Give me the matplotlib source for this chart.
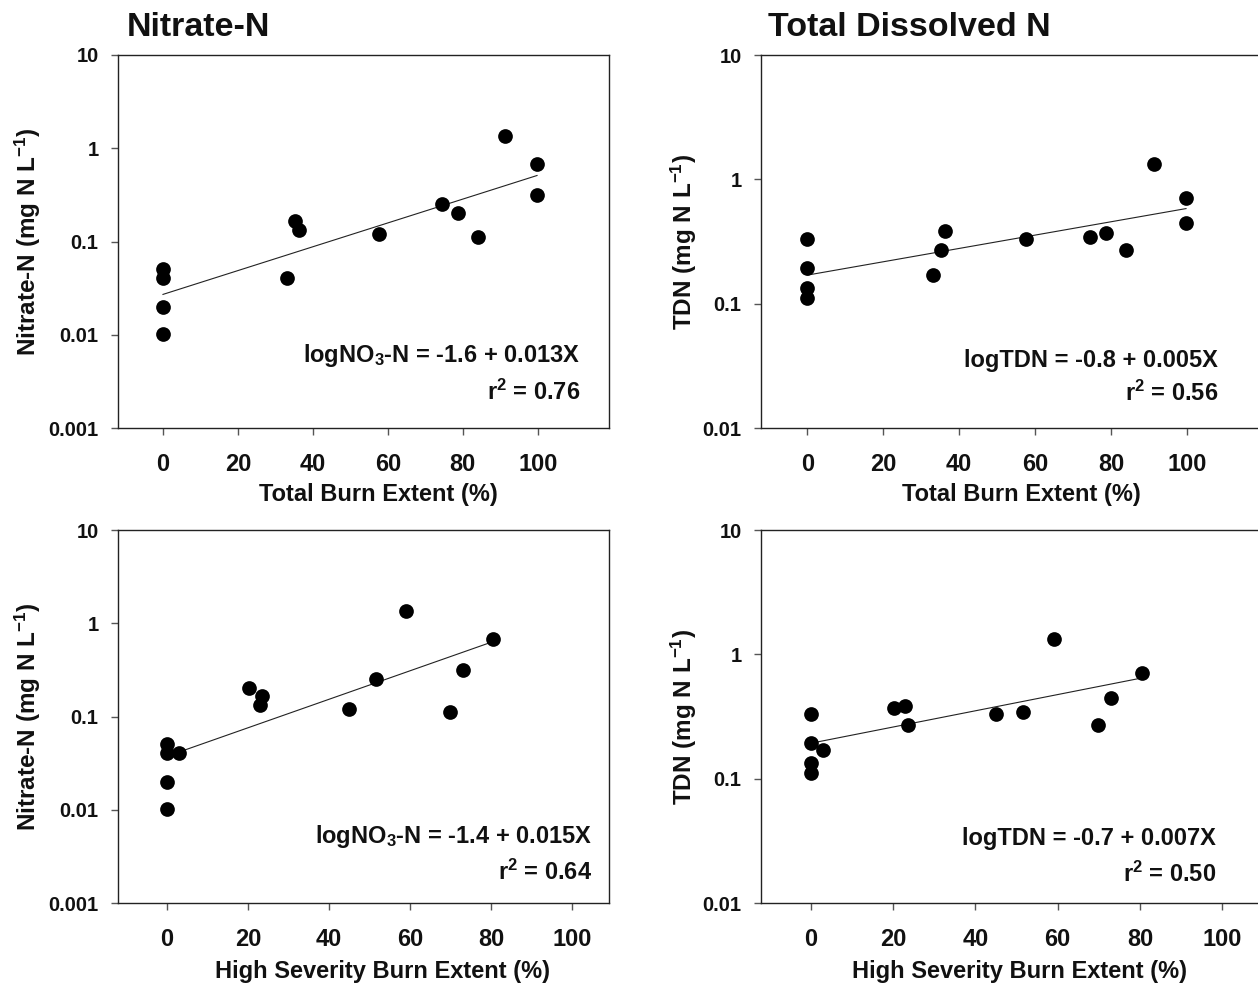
import numpy as np
import matplotlib
matplotlib.use("Agg")
import matplotlib.pyplot as plt

plt.rcParams['font.family'] = ['Liberation Sans', 'DejaVu Sans']
plt.rcParams['font.weight'] = 'bold'
plt.rcParams['mathtext.fontset'] = 'custom'
plt.rcParams['mathtext.rm'] = 'Liberation Sans:bold'
plt.rcParams['mathtext.bf'] = 'Liberation Sans:bold'
plt.rcParams['mathtext.it'] = 'Liberation Sans:bold'
plt.rcParams['mathtext.default'] = 'rm'

# ---- data ----
total_burn = [0, 0, 0, 0, 33, 35.2, 36.4, 57.6, 74.4, 78.6, 84.1, 91.3, 99.8, 99.8]
high_sev = [0, 0, 0, 0, 3, 23.5, 23, 45, 51.5, 20.2, 69.7, 59, 80.5, 73]
nitrate = [0.051, 0.041, 0.020, 0.0102, 0.041, 0.165, 0.132, 0.122, 0.255, 0.204,
           0.112, 1.34, 0.685, 0.318]
tdn = [0.334, 0.193, 0.133, 0.111, 0.172, 0.273, 0.386, 0.334, 0.344, 0.373,
       0.273, 1.33, 0.713, 0.447]

titles = ["Nitrate-N", "Total Dissolved N"]
x_labels = ["Total Burn Extent (%)", "High Severity Burn Extent (%)"]
y_labels = ["Nitrate-N (mg N L$^{\\mathrm{-1}}$)", "TDN (mg N L$^{\\mathrm{-1}}$)"]
equations = [["logNO$_{3}$-N = -1.6 + 0.013X", "logTDN = -0.8 + 0.005X"],
             ["logNO$_{3}$-N = -1.4 + 0.015X", "logTDN = -0.7 + 0.007X"]]
r2_texts = [["r$^{2}$ = 0.76", "r$^{2}$ = 0.56"],
            ["r$^{2}$ = 0.64", "r$^{2}$ = 0.50"]]
x_ticks = [0, 20, 40, 60, 80, 100]
nitrate_ticks = [0.001, 0.01, 0.1, 1, 10]
nitrate_ticklabels = ["0.001", "0.01", "0.1", "1", "10"]
tdn_ticks = [0.01, 0.1, 1, 10]
tdn_ticklabels = ["0.01", "0.1", "1", "10"]

W, H = 1258, 986
fig = plt.figure(figsize=(W / 100, H / 100), dpi=100)


def px_axes(left, top, right, bottom):
    return fig.add_axes([left / W, 1 - bottom / H, (right - left) / W, (bottom - top) / H])


layout = {
    (0, 0): dict(box=(118, 55, 609, 428.3), xlim=(-12, 119)),
    (0, 1): dict(box=(761, 55, 1258.5, 428.3), xlim=(-12.2, 118.9)),
    (1, 0): dict(box=(118, 530, 609, 903.3), xlim=(-12, 109)),
    (1, 1): dict(box=(761, 530, 1259, 903.3), xlim=(-12.1, 108.9)),
}
eq_pos = {
    (0, 0): (580, 362, 400),
    (0, 1): (1218, 367, 401),
    (1, 0): (592, 843, 880),
    (1, 1): (1216, 845, 882),
}
xlabel_pos = {(0, 0): 378, (0, 1): 1021, (1, 0): 382.5, (1, 1): 1019}

for r in range(2):
    xs = total_burn if r == 0 else high_sev
    for c in range(2):
        ys = nitrate if c == 0 else tdn
        cfg = layout[(r, c)]
        l, t, rr, b = cfg['box']
        ax = px_axes(l, t, rr, b)
        wpx, hpx = rr - l, b - t
        ax.set_yscale('log')
        ax.scatter(xs, ys, s=112, color='black', zorder=3, linewidths=0)
        xa = np.array(xs, dtype=float)
        coef = np.polyfit(xa, np.log10(ys), 1)
        xl = np.array([xa.min(), xa.max()])
        ax.plot(xl, 10 ** np.polyval(coef, xl), color='#222222', lw=0.8, zorder=2)
        ax.set_xlim(*cfg['xlim'])
        if c == 0:
            ax.set_ylim(0.001, 10)
            ax.set_yticks(nitrate_ticks)
            ax.set_yticklabels(nitrate_ticklabels)
        else:
            ax.set_ylim(0.01, 10)
            ax.set_yticks(tdn_ticks)
            ax.set_yticklabels(tdn_ticklabels)
        ax.yaxis.set_minor_locator(matplotlib.ticker.NullLocator())
        ax.set_xticks(x_ticks)
        ax.tick_params(axis='x', direction='out', length=5, width=1, color='#555555',
                       labelsize=17, pad=13)
        ax.tick_params(axis='y', direction='out', length=5, width=1, color='#555555',
                       labelsize=14.5, pad=9)
        for lab in ax.get_xticklabels() + ax.get_yticklabels():
            lab.set_fontweight('bold')
            lab.set_color('#111111')
        for sp in ax.spines.values():
            sp.set_linewidth(1.0)
            sp.set_color('#222222')
        ax.set_xlabel(x_labels[r], fontsize=17, fontweight='bold', color='#111111')
        ax.xaxis.set_label_coords((xlabel_pos[(r, c)] - l) / wpx,
                                  -(483 - 428.3) / hpx if r == 0 else -(960 - 903.3) / hpx)
        ax.set_ylabel(y_labels[c], fontsize=17.5, fontweight='bold', color='#111111')
        ylx = 43 if c == 0 else 699
        ax.yaxis.set_label_coords((ylx - l) / wpx, 0.5)
        ex, ey1, ey2 = eq_pos[(r, c)]
        ax.text((ex - l) / wpx, (b - ey1) / hpx, equations[r][c], transform=ax.transAxes,
                ha='right', va='baseline', fontsize=17, fontweight='bold', color='#111111')
        ax.text((ex - l) / wpx, (b - ey2) / hpx, r2_texts[r][c], transform=ax.transAxes,
                ha='right', va='baseline', fontsize=17, fontweight='bold', color='#111111')

fig.text(127 / W, 1 - 36 / H, titles[0], fontsize=24.5, fontweight='bold',
         ha='left', va='baseline', color='#111111')
fig.text(768 / W, 1 - 36 / H, titles[1], fontsize=24.5, fontweight='bold',
         ha='left', va='baseline', color='#111111')

fig.savefig("out.png", dpi=100)
